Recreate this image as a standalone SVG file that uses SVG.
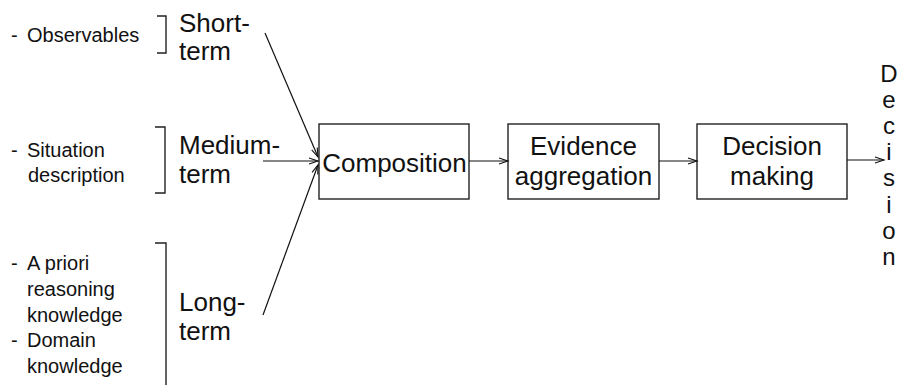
<svg xmlns="http://www.w3.org/2000/svg" width="899" height="385" viewBox="0 0 899 385">
  <style>
    text { font-family: "Liberation Sans", Arial, sans-serif; fill: #111; }
    .small { font-size: 20px; }
    .big { font-size: 26px; }
    .box { fill: #fff; stroke: #222; stroke-width: 1.4; }
    .boxlabel { font-size: 26px; text-anchor: middle; }
    .bracket { fill: none; stroke: #222; stroke-width: 1.4; }
    .link { fill: none; stroke: #111; stroke-width: 1.2; marker-end: url(#arrow); }
    .vert { font-size: 24px; text-anchor: middle; }
  </style>
  <defs>
    <marker id="arrow" markerUnits="userSpaceOnUse" markerWidth="12" markerHeight="10" refX="10" refY="4" orient="auto">
      <path d="M1,1 L10,4 L1,7" fill="none" stroke="#111" stroke-width="1.1"/>
    </marker>
  </defs>

  <!-- Short-term inputs -->
  <g id="short-term">
    <text class="small" x="11" y="42">-</text>
    <text class="small" x="27" y="42">Observables</text>
    <path class="bracket" d="M157,16 H166 V53 H157"/>
    <text class="big" x="179" y="32">Short-</text>
    <text class="big" x="179" y="60">term</text>
  </g>

  <!-- Medium-term inputs -->
  <g id="medium-term">
    <text class="small" x="11" y="157">-</text>
    <text class="small" x="27" y="157">Situation</text>
    <text class="small" x="28" y="182">description</text>
    <path class="bracket" d="M155,127 H165 V193 H155"/>
    <text class="big" x="179" y="154">Medium-</text>
    <text class="big" x="179" y="183">term</text>
  </g>

  <!-- Long-term inputs -->
  <g id="long-term">
    <text class="small" x="11" y="270">-</text>
    <text class="small" x="27" y="270">A priori</text>
    <text class="small" x="27" y="296">reasoning</text>
    <text class="small" x="27" y="322">knowledge</text>
    <text class="small" x="11" y="347">-</text>
    <text class="small" x="27" y="347">Domain</text>
    <text class="small" x="27" y="373">knowledge</text>
    <path class="bracket" d="M155,243 H166 V385"/>
    <text class="big" x="179" y="311">Long-</text>
    <text class="big" x="179" y="340">term</text>
  </g>

  <!-- Processing stages -->
  <g id="composition">
    <rect class="box" x="319" y="124" width="150" height="75"/>
    <text class="boxlabel" x="394.5" y="172">Composition</text>
  </g>
  <g id="evidence-aggregation">
    <rect class="box" x="508" y="124" width="151" height="75"/>
    <text class="boxlabel" x="583.5" y="155">Evidence</text>
    <text class="boxlabel" x="583.5" y="185">aggregation</text>
  </g>
  <g id="decision-making">
    <rect class="box" x="697" y="124" width="150" height="75"/>
    <text class="boxlabel" x="772" y="155">Decision</text>
    <text class="boxlabel" x="772" y="185">making</text>
  </g>

  <!-- Output, written vertically -->
  <g id="decision">
    <text class="vert" x="889" y="82">D</text>
    <text class="vert" x="889" y="108">e</text>
    <text class="vert" x="889" y="134">c</text>
    <text class="vert" x="889" y="160">i</text>
    <text class="vert" x="889" y="186">s</text>
    <text class="vert" x="889" y="213">i</text>
    <text class="vert" x="889" y="239">o</text>
    <text class="vert" x="889" y="265">n</text>
  </g>

  <!-- Connectors -->
  <g id="connectors">
    <line class="link" x1="265" y1="33" x2="318" y2="157"/>
    <line class="link" x1="263" y1="161" x2="318" y2="161"/>
    <line class="link" x1="263" y1="315" x2="318" y2="165"/>
    <line class="link" x1="469" y1="161" x2="508" y2="161"/>
    <line class="link" x1="659" y1="161" x2="697" y2="161"/>
    <line class="link" x1="847" y1="160" x2="884" y2="160"/>
  </g>
</svg>
